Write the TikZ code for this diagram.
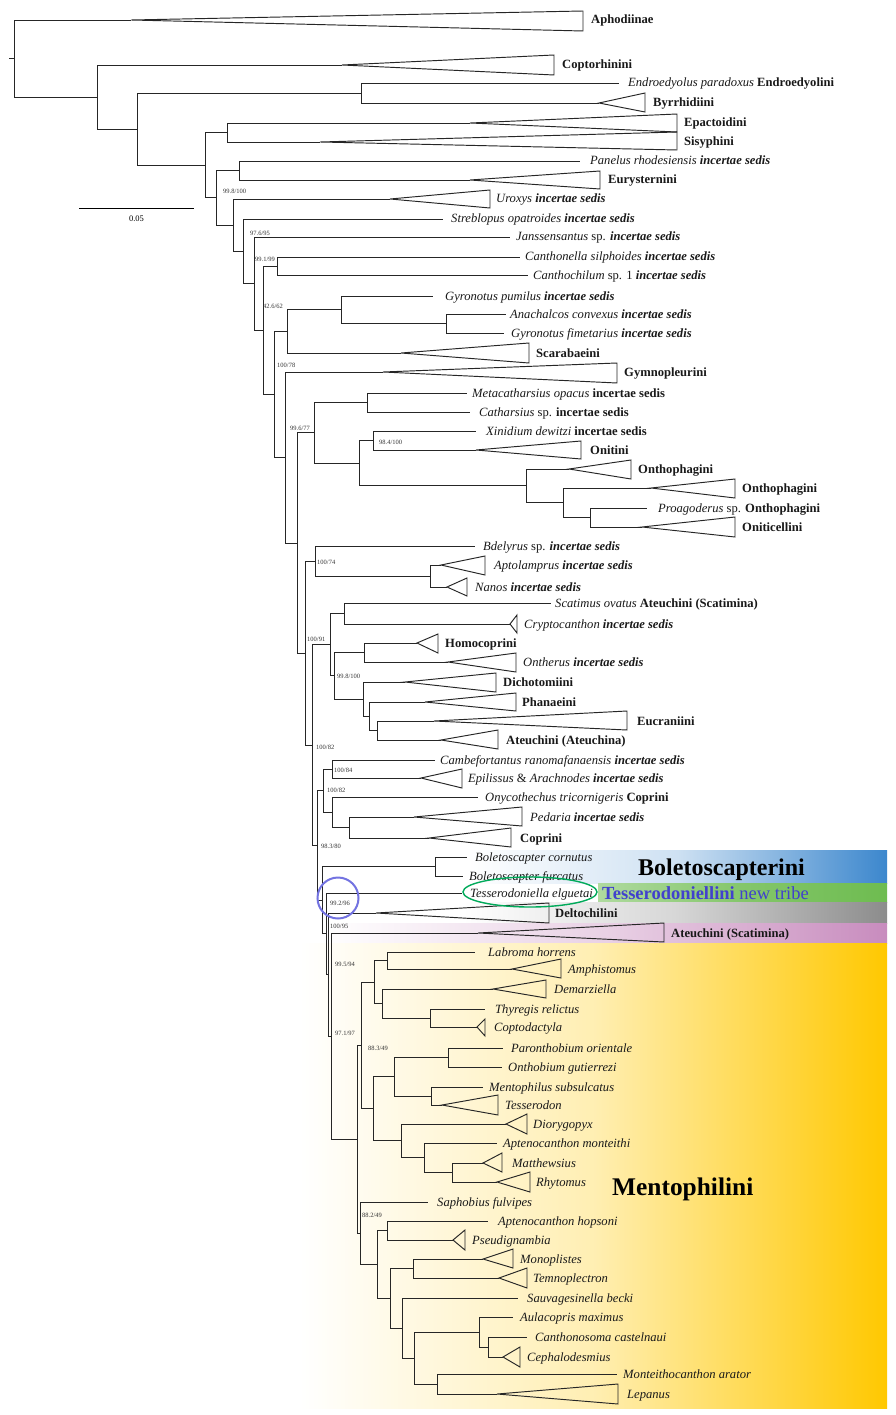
\documentclass[tikz,border=0pt]{standalone}
\usepackage{fontspec}
\setmainfont{Liberation Serif}
\newcommand{\incsed}{\textbf{\textit{incertae sedis}}}
\newcommand{\incup}{\textbf{incertae sedis}}
\definecolor{bandblue}{RGB}{60,135,205}
\definecolor{bandgreen}{RGB}{110,188,80}
\definecolor{bandgray}{RGB}{140,140,140}
\definecolor{bandpink}{RGB}{200,140,190}
\definecolor{bandyellow}{RGB}{255,200,0}
\definecolor{tribeblue}{RGB}{65,65,205}
\definecolor{ringgreen}{RGB}{0,170,90}
\definecolor{ringblue}{RGB}{115,115,225}
\tikzset{
  branch/.style={draw=black!85, line width=0.95pt},
  clade/.style={draw=black!85, line width=0.95pt, line join=miter},
  tiplabel/.style={anchor=base west, inner sep=0pt, font=\fontsize{12.6}{14}\selectfont, text=black!90},
  boot/.style={anchor=west, inner sep=0pt, font=\fontsize{6.5}{7}\selectfont, text=black!80},
  bigtribe/.style={anchor=base west, inner sep=0pt, font=\bfseries}
}
\begin{document}
\begin{tikzpicture}[x=1pt,y=-1pt]
\useasboundingbox (0,0) rectangle (895,1415);
\fill[white] (0,0) rectangle (895,1415);

% coloured bands behind the tribes
\shade[left color=white, right color=bandblue, middle color=bandblue!25] (467,850) rectangle (887,883);
\shade[left color=bandgreen!55, right color=bandgreen, middle color=bandgreen!85] (598,883) rectangle (887,902);
\shade[left color=white, right color=bandgray, middle color=bandgray!35] (463,902) rectangle (887,923);
\shade[left color=white, right color=bandpink, middle color=bandpink!40] (323,923) rectangle (887,943);
\shade[left color=white, right color=bandyellow, middle color=bandyellow!30] (300,943) rectangle (887,1408);

% internal nodes of the tree
\foreach \nm/\x/\y in {root/14/58.5, n98/97/97.05, n137/137/129.1, endbyr/361/93, n205/205/165.2,
  epsis/227/132.5, a0/216/197.8, paneur/239/170.5, na/233/225.2, nb/243/251.3, nc/254/283.6,
  nd/263/330.2, cpair/277/266, nf/274/394.4, ne/287/331.4, gyr/341/309.75, anagfi/446/323.5,
  ng/285/457.5, nh/297/543, ni/314/432.9, nj/367/402.5, nl/359/463.2, nk/373/440.5,
  nm/526/485.9, nm2/563/502.75, nm3/590/517.5, nn/305/653, no/315/561, aptnan/430/576,
  np/312/745, nq/330/644.7, scr/344/613.5, nr/334/675.8, ns/364/652.5, nt/363/699.1,
  nu/369/716.25, nv/377/730.5, nz/317/845.4, nx/323.5/790.6, nw/332/769, ny/332/812.25,
  pcop/349/827.5, naa/322/900.1, bol/435/866.5, nab/326/933.8, nac/328/974.6, nad/331/1036.2,
  mc/357/1139.3, md/361/1045.4, m4/374/982, m1/387/960.5, m3/382/1003.5, m2/430/1018,
  m12/373/1108.8, m8/394/1076.75, m6/448/1057.5, m7/431/1096, m11/401/1140.9, m10/424/1157.75,
  m9/452/1172.5, n10/360/1233.2, n9/377/1264.4, n1/387/1230.5, n8/390/1298.25, n2/413/1268.5,
  n7/402/1328, n6/414/1358, n4/479/1332, n3/488/1347, n5/437/1384}
  \coordinate (\nm) at (\x,\y);

% single terminals
\foreach \nm/\x/\y in {endr/619/83, pan/580/161, str/443/219, jan/510/237, cnt/520/257, cch/528/275,
  gpu/433/296, ana/506/314, gfi/504/333, met/467/393, cat/470/412, xin/476/431, pro/647/508,
  bde/475/546, scv/551/603, cam/435/760, ony/478/797, bco/467/857, bfu/463/876, tee/462/893,
  lab/475/952, thy/485/1009, par/503/1048, onb/502/1067, men/483/1087, apm/497/1143,
  sap/428/1202, aho/488/1221, sau/518/1298, aul/513/1317, can/527/1337, mnt/617/1374}
  \coordinate (\nm) at (\x,\y);

% collapsed clades
\foreach \nm/\ax/\ay/\rx/\ty/\by in {aph/131/20/583/11/31, cop/342/65/554/55/75, byr/599/103/645/93/112,
  epa/470/123/677/114/132, sis/320/142/677/132/150, eur/470/180/600/171/189, uro/390/199/490/190/208,
  sca/401/353/529/343/363, gym/383/372/617/363/383, oni/476/450/581/441/459, ont1/569/469/631/460/479,
  ont2/651/488/735/479/498, otc/642/527/735/517/537, apt/441/565/485/556/575, nan/447/587/467/578/596,
  cry/510/624/517/615/633, hom/417/643/438/634/653, onr/448/662/516/653/672, dic/405/682/496/673/692,
  pha/425/702/516/693/711, euc/434/721/627/711/730, ate/441/740/498/730/749, epi/421/778/462/769/788,
  ped/414/817/522/807/826, cpr/429/838/511/828/847, del/376/913/549/903/923, ats/478/933/664/923/942,
  amp/512/969/561/959/978, dem/493/989/546/980/998, cpt/477/1027/485/1019/1036, tes/442/1105/498/1095/1115,
  dio/506/1124/527/1114/1134, mat/483/1163/502/1153/1172, rhy/497/1182/530/1172/1192,
  pse/453/1240/465/1230/1250, mon/483/1259/513/1249/1268, tem/499/1278/527/1268/1288,
  cep/503/1357/520/1347/1367, lep/497/1394/618/1384/1404}
{
  \coordinate (\nm) at (\ax,\ay);
  \draw[clade] (\nm) -- (\rx,\ty) -- (\rx,\by) -- cycle;
}

% branches
\coordinate (stub) at (9,58.5);
\draw[branch] (stub) -- (root);
\foreach \p/\c in {root/aph, root/n98, n98/cop, n98/n137, n137/endbyr, n137/n205, endbyr/endr, endbyr/byr,
  n205/epsis, n205/a0, epsis/epa, epsis/sis, a0/paneur, a0/na, paneur/pan, paneur/eur, na/uro, na/nb,
  nb/str, nb/nc, nc/jan, nc/nd, nd/cpair, nd/nf, cpair/cnt, cpair/cch, nf/ne, nf/ng, ne/gyr, ne/sca,
  gyr/gpu, gyr/anagfi, anagfi/ana, anagfi/gfi, ng/gym, ng/nh, nh/ni, nh/nn, ni/nj, ni/nl, nj/met, nj/cat,
  nl/nk, nl/nm, nk/xin, nk/oni, nm/ont1, nm/nm2, nm2/ont2, nm2/nm3, nm3/pro, nm3/otc,
  nn/no, nn/np, no/bde, no/aptnan, aptnan/apt, aptnan/nan, np/nq, np/nz, nq/scr, nq/nr, scr/scv, scr/cry,
  nr/ns, nr/nt, ns/hom, ns/onr, nt/dic, nt/nu, nu/pha, nu/nv, nv/euc, nv/ate,
  nz/nx, nz/naa, nx/nw, nx/ny, nw/cam, nw/epi, ny/ony, ny/pcop, pcop/ped, pcop/cpr,
  naa/bol, naa/nab, bol/bco, bol/bfu, nab/tee, nab/nac, nac/del, nac/nad, nad/ats, nad/mc,
  mc/md, mc/n10, md/m4, md/m12, m4/m1, m4/m3, m1/lab, m1/amp, m3/dem, m3/m2, m2/thy, m2/cpt,
  m12/m8, m12/m11, m8/m6, m8/m7, m6/par, m6/onb, m7/men, m7/tes, m11/dio, m11/m10, m10/apm, m10/m9,
  m9/mat, m9/rhy, n10/sap, n10/n9, n9/n1, n9/n8, n1/aho, n1/pse, n8/n2, n8/n7, n2/mon, n2/tem,
  n7/sau, n7/n6, n6/n4, n6/n5, n4/aul, n4/n3, n3/can, n3/cep, n5/mnt, n5/lep}
  \draw[branch] (\p) |- (\c);

% terminal labels
\foreach \nm/\lx/\ly/\txt in {aph/591/20/{\textbf{Aphodiinae}}, cop/562/65/{\textbf{Coptorhinini}},
  endr/628/83/{\textit{Endroedyolus paradoxus} \textbf{Endroedyolini}}, byr/653/103/{\textbf{Byrrhidiini}},
  epa/684/123/{\textbf{Epactoidini}}, sis/684/142/{\textbf{Sisyphini}},
  pan/590/161/{\textit{Panelus rhodesiensis} \incsed}, eur/608/180/{\textbf{Eurysternini}},
  uro/496/199/{\textit{Uroxys} \incsed}, str/451/219/{\textit{Streblopus opatroides} \incsed},
  jan/516/237/{\textit{Janssensantus} sp. \incsed}, cnt/525/257/{\textit{Canthonella silphoides} \incsed},
  cch/533/275/{\textit{Canthochilum} sp. 1 \incsed}, gpu/445/296/{\textit{Gyronotus pumilus} \incsed},
  ana/510/314/{\textit{Anachalcos convexus} \incsed}, gfi/511/333/{\textit{Gyronotus fimetarius} \incsed},
  sca/536/353/{\textbf{Scarabaeini}}, gym/624/372/{\textbf{Gymnopleurini}},
  met/472/393/{\textit{Metacatharsius opacus} \incup}, cat/479/412/{\textit{Catharsius} sp. \incup},
  xin/486/431/{\textit{Xinidium dewitzi} \incup}, oni/590/450/{\textbf{Onitini}},
  ont1/638/469/{\textbf{Onthophagini}}, ont2/742/488/{\textbf{Onthophagini}},
  pro/658/508/{\textit{Proagoderus} sp. \textbf{Onthophagini}}, otc/742/527/{\textbf{Oniticellini}},
  bde/483/546/{\textit{Bdelyrus} sp. \incsed}, apt/494/565/{\textit{Aptolamprus} \incsed},
  nan/475/587/{\textit{Nanos} \incsed}, scv/555/603/{\textit{Scatimus ovatus} \textbf{Ateuchini (Scatimina)}},
  cry/524/624/{\textit{Cryptocanthon} \incsed}, hom/445/643/{\textbf{Homocoprini}},
  onr/523/662/{\textit{Ontherus} \incsed}, dic/503/682/{\textbf{Dichotomiini}},
  pha/522/702/{\textbf{Phanaeini}}, euc/637/721/{\textbf{Eucraniini}}, ate/506/740/{\textbf{Ateuchini (Ateuchina)}},
  cam/440/760/{\textit{Cambefortantus ranomafanaensis} \incsed},
  epi/468/778/{\textit{Epilissus} \& \textit{Arachnodes} \incsed},
  ony/485/797/{\textit{Onycothechus tricornigeris} \textbf{Coprini}}, ped/530/817/{\textit{Pedaria} \incsed},
  cpr/520/838/{\textbf{Coprini}}, bco/475/857/{\textit{Boletoscapter cornutus}},
  bfu/469/876/{\textit{Boletoscapter furcatus}}, tee/470/893/{\textit{Tesserodoniella elguetai}},
  del/555/913/{\textbf{Deltochilini}}, ats/671/933/{\textbf{Ateuchini (Scatimina)}},
  lab/488/952/{\textit{Labroma horrens}}, amp/568/969/{\textit{Amphistomus}}, dem/554/989/{\textit{Demarziella}},
  thy/495/1009/{\textit{Thyregis relictus}}, cpt/494/1027/{\textit{Coptodactyla}},
  par/511/1048/{\textit{Paronthobium orientale}}, onb/508/1067/{\textit{Onthobium gutierrezi}},
  men/489/1087/{\textit{Mentophilus subsulcatus}}, tes/505/1105/{\textit{Tesserodon}},
  dio/533/1124/{\textit{Diorygopyx}}, apm/503/1143/{\textit{Aptenocanthon monteithi}},
  mat/512/1163/{\textit{Matthewsius}}, rhy/536/1182/{\textit{Rhytomus}}, sap/437/1202/{\textit{Saphobius fulvipes}},
  aho/498/1221/{\textit{Aptenocanthon hopsoni}}, pse/472/1240/{\textit{Pseudignambia}},
  mon/520/1259/{\textit{Monoplistes}}, tem/533/1278/{\textit{Temnoplectron}},
  sau/527/1298/{\textit{Sauvagesinella becki}}, aul/520/1317/{\textit{Aulacopris maximus}},
  can/535/1337/{\textit{Canthonosoma castelnaui}}, cep/527/1357/{\textit{Cephalodesmius}},
  mnt/623/1374/{\textit{Monteithocanthon arator}}, lep/627/1394/{\textit{Lepanus}}}
  \node[tiplabel] (l\nm) at (\lx,{\ly+4}) {\txt};

% support values
\foreach \nm/\bx/\by/\bv in {b1/223/191/{99.8/100}, b2/250/233/{97.6/95}, b3/255/259/{99.1/99},
  b4/263/306/{42.6/62}, b5/277/365/{100/78}, b6/290/428/{99.6/77}, b7/379/442/{98.4/100},
  b8/317/562/{100/74}, b9/307/639/{100/91}, b10/337/676/{99.8/100}, b11/316/747/{100/82},
  b12/334/770/{100/84}, b13/327/790/{100/82}, b14/321/846/{98.3/80}, b15/330/903/{99.2/96},
  b16/330/926/{100/95}, b17/335/964/{99.5/94}, b18/335/1033/{97.1/97}, b19/368/1048/{88.3/49},
  b20/362/1215/{88.2/49}}
  \node[boot] (\nm) at (\bx,\by) {\bv};

% scale bar
\coordinate (sbl) at (79,209);
\coordinate (sbr) at (194,209);
\draw[line width=1pt] (sbl) -- (sbr) node[midway, below=3pt, font=\fontsize{8.5}{9}\selectfont] (sblab) {0.05};

% highlights
\draw[ringgreen, line width=1.4pt] (530,892) ellipse [x radius=67pt, y radius=15pt];
\draw[ringblue, line width=2pt] (338,898) circle [radius=20.5pt];

\node[bigtribe, font=\fontsize{24}{26}\selectfont\bfseries] (boleto) at (638,875) {Boletoscapterini};
\node[bigtribe, font=\fontsize{18.5}{20}\selectfont, text=tribeblue] (tessero) at (602,899) {\textbf{Tesserodoniellini} new tribe};
\node[bigtribe, font=\fontsize{25.4}{27}\selectfont\bfseries] (mento) at (612,1195) {Mentophilini};

\end{tikzpicture}
\end{document}
